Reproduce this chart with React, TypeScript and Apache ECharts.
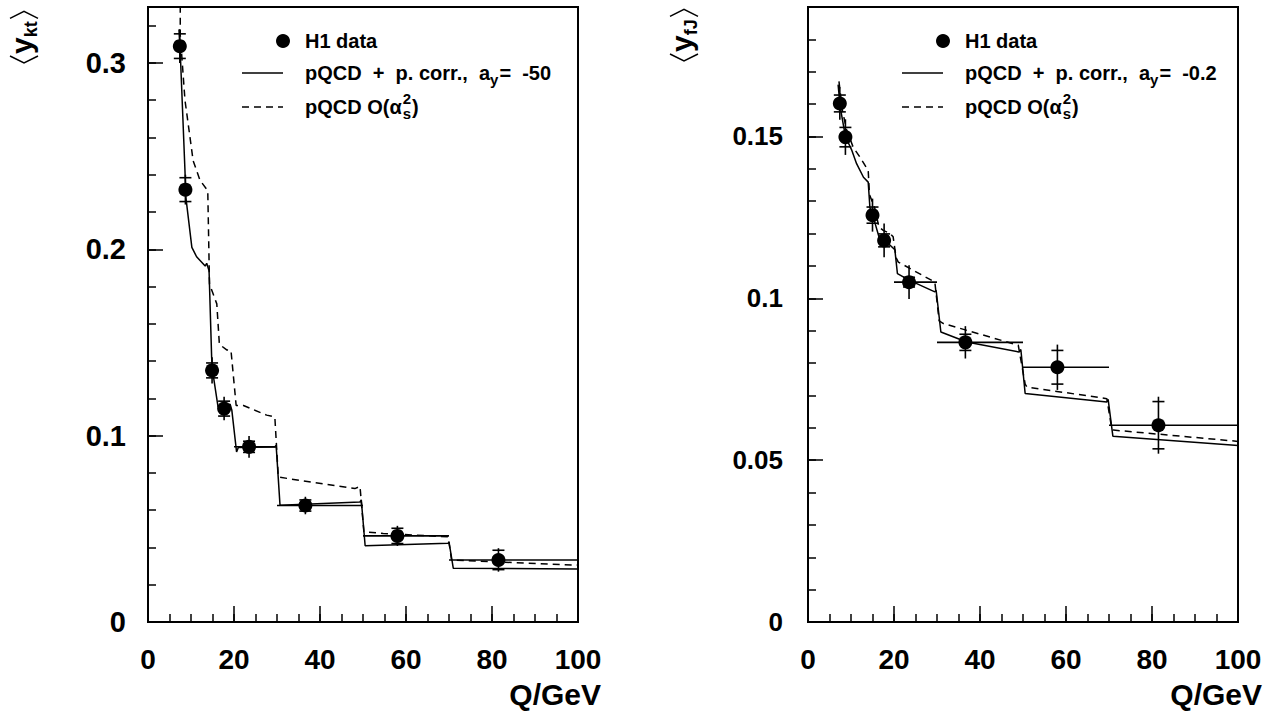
import React, { useEffect, useRef } from 'react';
import * as echarts from 'echarts';

const FONT = '"Liberation Sans", Arial, Helvetica, sans-serif';

// ---------- Left panel: <y_kt> ----------
const ktQ = [7.4, 8.7, 14.9, 17.7, 23.5, 36.6, 58.0, 81.5];
const ktY = [0.309, 0.232, 0.135, 0.1145, 0.094, 0.0625, 0.0462, 0.0333];
const ktStat = [0.0066, 0.0064, 0.004, 0.004, 0.003, 0.003, 0.0041, 0.0052];
const ktTot = [0.009, 0.008, 0.007, 0.0063, 0.0058, 0.0047, 0.0054, 0.0063];
const binLo = [null, null, null, null, 20, 30, 50, 70];
const binHi = [null, null, null, null, 30, 50, 70, 100];

const ktCorr = [
  [7.2, 0.318], [7.6, 0.300], [8.6, 0.242], [8.8, 0.228], [10.2, 0.201], [11.3, 0.196],
  [13.3, 0.191], [13.65, 0.1925], [14.2, 0.1885], [14.8, 0.142], [15.0, 0.135], [16.3, 0.1153],
  [19.1, 0.1168], [19.5, 0.1136], [20.6, 0.0912], [21.0, 0.0936], [29.5, 0.0939], [29.8, 0.0948],
  [30.7, 0.0627], [49.3, 0.0644], [49.6, 0.0655], [50.5, 0.0409], [69.8, 0.0422], [70.0, 0.043],
  [71.0, 0.0288], [100, 0.0285],
];
const ktNlo = [
  [7.5, 0.35], [7.5, 0.315], [8.6, 0.28], [10.5, 0.2475], [12.1, 0.237], [13.9, 0.2314],
  [14.3, 0.1814], [16.0, 0.1707], [16.6, 0.149], [18.3, 0.146], [19.3, 0.1457], [20.5, 0.1162],
  [22.2, 0.1162], [27.6, 0.111], [29.5, 0.110], [30.3, 0.0778], [35.3, 0.076], [48.1, 0.0716],
  [49.3, 0.0728], [50.2, 0.0484], [54.7, 0.0475], [69.8, 0.0457], [70.6, 0.0332], [100, 0.0305],
];

// ---------- Right panel: <y_fJ> ----------
const fjQ = [7.4, 8.7, 15.0, 17.7, 23.5, 36.6, 58.0, 81.5];
const fjY = [0.1602, 0.1498, 0.1257, 0.1179, 0.105, 0.0864, 0.0787, 0.0608];
const fjStat = [0.0026, 0.003, 0.0025, 0.002, 0.0015, 0.0025, 0.0052, 0.0073];
const fjTot = [0.005, 0.0055, 0.0051, 0.0052, 0.0052, 0.005, 0.007, 0.0088];

const fjCorr = [
  [7.0, 0.166], [7.5, 0.159], [8.7, 0.150], [10.2, 0.1457], [11.3, 0.1416], [12.9, 0.1374],
  [14.0, 0.1359], [14.4, 0.128], [15.2, 0.125], [16.5, 0.119], [17.5, 0.1175], [19.1, 0.1164],
  [20.2, 0.115], [20.8, 0.1076], [23.5, 0.1056], [29.5, 0.102], [29.8, 0.1025], [30.9, 0.0896],
  [36.9, 0.0865], [49.1, 0.0834], [49.5, 0.0842], [50.5, 0.0706], [69.5, 0.068], [69.8, 0.0688],
  [70.9, 0.0574], [100, 0.0545],
];
const fjNlo = [
  [7.2, 0.167], [8.0, 0.158], [9.0, 0.152], [10.5, 0.1467], [12.1, 0.1436], [14.0, 0.1395],
  [14.3, 0.132], [15.5, 0.128], [16.5, 0.122], [17.5, 0.121], [19.1, 0.12], [19.8, 0.119],
  [20.5, 0.1125], [21.0, 0.1112], [29.5, 0.105], [30.5, 0.093], [31.5, 0.0922], [48.9, 0.0855],
  [50.5, 0.0735], [50.9, 0.0726], [69.5, 0.069], [70.6, 0.060], [71.0, 0.0593], [100, 0.0558],
];

const xTicks = [0, 20, 40, 60, 80, 100];
const ktTicks = [0, 0.1, 0.2, 0.3];
const fjTicks = [0, 0.05, 0.1, 0.15];

function measure(text: string, size: number) {
  const c = document.createElement('canvas').getContext('2d') as CanvasRenderingContext2D;
  c.font = `bold ${size}px "Liberation Sans"`;
  return c.measureText(text).width;
}

const MAIN = 20;
const SUB = 15;

function txt(text: string, x: number, y: number, size: number, align = 'left') {
  return {
    type: 'text', x, y, z: 100,
    style: {
      text, fill: '#000', fontSize: size, fontWeight: 'bold', fontFamily: FONT,
      textAlign: align, textVerticalAlign: 'middle', verticalAlign: 'middle',
    },
  };
}

function legendBlock(dotX: number, lx1: number, lx2: number, tx: number, aVal: string) {
  const els: any[] = [];
  const r1 = 41, r2 = 73, r3 = 107;
  els.push({ type: 'circle', shape: { cx: dotX, cy: r1, r: 7 }, style: { fill: '#000' }, z: 100 });
  els.push(txt('H1 data', tx, r1, MAIN));
  els.push({ type: 'line', shape: { x1: lx1, y1: r2, x2: lx2, y2: r2 }, style: { stroke: '#000', lineWidth: 1.5 }, z: 100 });
  const s1 = 'pQCD  +  p. corr.,  a';
  const w1 = measure(s1, MAIN);
  els.push(txt(s1, tx, r2, MAIN));
  els.push(txt('y', tx + w1, r2 + 6, SUB));
  const wy = measure('y', SUB);
  els.push(txt('=  ' + aVal, tx + w1 + wy + 1, r2, MAIN));
  els.push({ type: 'line', shape: { x1: lx1, y1: r3, x2: lx2, y2: r3 }, style: { stroke: '#000', lineWidth: 1.5, lineDash: [7, 5] }, z: 100 });
  const s3 = 'pQCD O(α';
  const w3 = measure(s3, MAIN);
  els.push(txt(s3, tx, r3, MAIN));
  els.push(txt('s', tx + w3 + 1, r3 + 6, SUB));
  els.push(txt('2', tx + w3 + 1, r3 - 9, SUB));
  const w4 = Math.max(measure('s', SUB), measure('2', SUB));
  els.push(txt(')', tx + w3 + w4 + 2, r3, MAIN));
  return els;
}

function yTitle(X: number, Y: number, sub: string) {
  const wy = measure('y', 30);
  const ws = measure(sub, 18);
  const x0 = 10;
  const end = x0 + wy + ws + 3;
  return {
    type: 'group', x: X, y: Y, rotation: Math.PI / 2, z: 100,
    children: [
      { type: 'polyline', shape: { points: [[8, -14], [1, 0], [8, 14]] }, style: { stroke: '#000', lineWidth: 1.5, fill: null } },
      { type: 'text', x: x0, y: -3, style: { text: 'y', fill: '#000', fontSize: 30, fontWeight: 'bold', fontFamily: FONT, textVerticalAlign: 'middle', verticalAlign: 'middle' } },
      { type: 'text', x: x0 + wy, y: 7, style: { text: sub, fill: '#000', fontSize: 18, fontWeight: 'bold', fontFamily: FONT, textVerticalAlign: 'middle', verticalAlign: 'middle' } },
      { type: 'polyline', shape: { points: [[end, -14], [end + 7, 0], [end, 14]] }, style: { stroke: '#000', lineWidth: 1.5, fill: null } },
    ],
  };
}

function errData(q: number[], y: number[], st: number[], tt: number[]) {
  return q.map((v, i) => [v, y[i], st[i], tt[i], binLo[i] ?? -1, binHi[i] ?? -1]);
}

const renderErr = (params: any, api: any) => {
  const q = api.value(0), y = api.value(1), st = api.value(2), tt = api.value(3);
  const lo = api.value(4), hi = api.value(5);
  const c = api.coord([q, y]);
  const t = api.coord([q, y + tt]);
  const b = api.coord([q, y - tt]);
  const s1 = api.coord([q, y + st]);
  const s2 = api.coord([q, y - st]);
  const style = { stroke: '#000', lineWidth: 1.6 };
  const children: any[] = [
    { type: 'line', shape: { x1: c[0], y1: t[1], x2: c[0], y2: b[1] }, style },
    { type: 'line', shape: { x1: c[0] - 6, y1: s1[1], x2: c[0] + 6, y2: s1[1] }, style },
    { type: 'line', shape: { x1: c[0] - 6, y1: s2[1], x2: c[0] + 6, y2: s2[1] }, style },
  ];
  if (lo >= 0) {
    const l = api.coord([lo, y]);
    const h = api.coord([hi, y]);
    children.push({ type: 'line', shape: { x1: l[0], y1: c[1], x2: h[0], y2: c[1] }, style });
  }
  return { type: 'group', children };
};

const tickStyle = { color: '#000', width: 1.5 };
const labelBase = { fontWeight: 'bold', fontFamily: FONT, color: '#000' };

function xAxes(gi: number) {
  return [
    {
      type: 'value', gridIndex: gi, min: 0, max: 100, interval: 20, position: 'bottom',
      axisLine: { show: false }, splitLine: { show: false },
      axisTick: { inside: true, length: 16, lineStyle: tickStyle },
      axisLabel: { ...labelBase, fontSize: 28, margin: 23, formatter: (v: number) => (xTicks.includes(v) ? String(v) : '') },
    },
    {
      type: 'value', gridIndex: gi, min: 0, max: 100, interval: 5, position: 'bottom',
      axisLine: { show: false }, splitLine: { show: false }, axisLabel: { show: false },
      axisTick: { inside: true, length: 8, lineStyle: tickStyle },
    },
  ];
}

function yAxes(gi: number, max: number, major: number, minor: number, ticks: number[], fs: number, margin: number) {
  return [
    {
      type: 'value', gridIndex: gi, min: 0, max, interval: major, position: 'left',
      axisLine: { show: false }, splitLine: { show: false }, showMaxLabel: false,
      axisTick: { inside: true, length: 15, lineStyle: tickStyle },
      axisLabel: {
        ...labelBase, fontSize: fs, margin,
        formatter: (v: number) => (ticks.some((t) => Math.abs(t - v) < 1e-9) ? String(+v.toFixed(3)) : ''),
      },
    },
    {
      type: 'value', gridIndex: gi, min: 0, max, interval: minor, position: 'left',
      axisLine: { show: false }, splitLine: { show: false }, axisLabel: { show: false },
      axisTick: { inside: true, length: 8, lineStyle: tickStyle },
    },
  ];
}

function lineSeries(data: number[][], xi: number, yi: number, dashed: boolean) {
  return {
    type: 'line', xAxisIndex: xi, yAxisIndex: yi, data, showSymbol: false, symbol: 'none',
    lineStyle: { color: '#000', width: 1.5, type: dashed ? [7, 5] : 'solid' }, clip: true, z: 3,
  };
}

function scatter(q: number[], y: number[], xi: number, yi: number) {
  return {
    type: 'scatter', xAxisIndex: xi, yAxisIndex: yi, data: q.map((v, i) => [v, y[i]]),
    symbolSize: 14, itemStyle: { color: '#000', opacity: 1 }, z: 5,
  };
}

export default function App() {
  const ref = useRef<HTMLDivElement>(null);
  useEffect(() => {
    if (!ref.current) return;
    const chart = echarts.init(ref.current, null, { renderer: 'svg' });
    const option: any = {
      animation: false,
      backgroundColor: '#fff',
      grid: [
        { left: 148, top: 7, width: 430, height: 615, show: true, borderColor: '#000', borderWidth: 2, backgroundColor: 'transparent' },
        { left: 808, top: 7, width: 430, height: 615, show: true, borderColor: '#000', borderWidth: 2, backgroundColor: 'transparent' },
      ],
      xAxis: [...xAxes(0), ...xAxes(1)],
      yAxis: [...yAxes(0, 0.33, 0.1, 0.02, ktTicks, 29, 22), ...yAxes(1, 0.19, 0.05, 0.01, fjTicks, 26, 25)],
      series: [
        lineSeries(ktCorr, 0, 0, false),
        lineSeries(ktNlo, 0, 0, true),
        { type: 'custom', xAxisIndex: 0, yAxisIndex: 0, renderItem: renderErr, data: errData(ktQ, ktY, ktStat, ktTot), encode: { x: 0, y: 1 }, z: 4 },
        scatter(ktQ, ktY, 0, 0),
        lineSeries(fjCorr, 2, 2, false),
        lineSeries(fjNlo, 2, 2, true),
        { type: 'custom', xAxisIndex: 2, yAxisIndex: 2, renderItem: renderErr, data: errData(fjQ, fjY, fjStat, fjTot), encode: { x: 0, y: 1 }, z: 4 },
        scatter(fjQ, fjY, 2, 2),
      ],
      graphic: [
        ...legendBlock(283, 242, 283, 305, '-50'),
        ...legendBlock(943, 902, 943, 965, '-0.2'),
        yTitle(24, 64, 'kt'),
        yTitle(684, 62, 'fJ'),
        txt('Q/GeV', 601, 694, 30, 'right'),
        txt('Q/GeV', 1262, 694, 30, 'right'),
      ],
    };
    chart.setOption(option);
    return () => chart.dispose();
  }, []);
  return <div ref={ref} style={{ position: 'absolute', left: 0, top: 0, width: 1273, height: 711 }} />;
}
